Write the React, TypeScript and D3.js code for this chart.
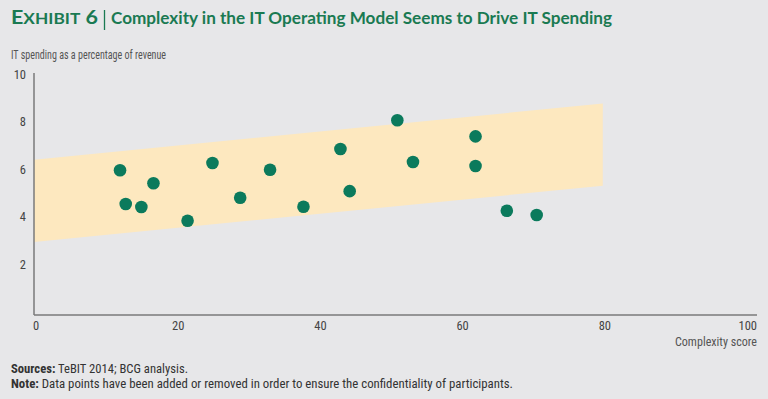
import React from "react";
import * as d3 from "d3";

const complexity = [12.1, 12.9, 15.1, 16.8, 21.6, 25.1, 29.0, 33.2, 37.9, 43.1, 44.4, 51.1, 53.3, 62.1, 62.1, 66.5, 70.7];
const itSpending = [5.98, 4.56, 4.43, 5.43, 3.85, 6.29, 4.82, 6.0, 4.44, 6.88, 5.1, 8.09, 6.33, 7.41, 6.16, 4.27, 4.09];
const bandX = [0, 80];
const bandTop = [6.42, 8.8];
const bandBottom = [2.95, 5.33];
const xTicks = [0, 20, 40, 60, 80, 100];
const yTicks = [2, 4, 6, 8, 10];

const W = 768;
const H = 399;
const FONT = "'Liberation Sans Narrow', 'Roboto Condensed', 'Open Sans', Roboto, sans-serif";
const TITLE_FONT = "Lato, 'Open Sans', Roboto, sans-serif";

export default function App() {
  const x = d3.scaleLinear().domain([0, 100]).range([34, 745]);
  const y = d3.scaleLinear().domain([0, 10]).range([312, 75]);
  const bandData = bandX.map((v, i) => ({ x: v, t: bandTop[i], b: bandBottom[i] }));
  const area = d3
    .area<{ x: number; t: number; b: number }>()
    .x((d) => x(d.x))
    .y0((d) => y(d.b))
    .y1((d) => y(d.t));
  const green = "#0b7a5c";
  const titleGreen = "#1a7a52";
  return (
    <svg width={W} height={H} style={{ position: "absolute", left: 0, top: 0, display: "block" }}>
      <rect width={W} height={H} fill="#e7e7e9" />
      <text x={11} y={24} fill={titleGreen} fontFamily={TITLE_FONT} fontWeight="bold" textLength={87} lengthAdjust="spacingAndGlyphs">
        <tspan fontSize={18}>E</tspan>
        <tspan fontSize={14.5}>XHIBIT</tspan>
        <tspan fontSize={18}> 6</tspan>
      </text>
      <line x1={104.5} x2={104.5} y1={10} y2={30} stroke={titleGreen} strokeWidth={1.3} />
      <text x={111} y={24} fill={titleGreen} fontFamily={TITLE_FONT} fontWeight="bold" fontSize={17.5} textLength={501} lengthAdjust="spacingAndGlyphs">
        Complexity in the IT Operating Model Seems to Drive IT Spending
      </text>
      <text x={11} y={59} fill="#555" fontFamily={FONT} fontSize={12} textLength={155} lengthAdjust="spacingAndGlyphs">
        IT spending as a percentage of revenue
      </text>
      <path d={area(bandData) || ""} fill="#fde8bf" />
      <line x1={34} x2={34} y1={73} y2={315} stroke="#7a7a7a" strokeWidth={1.5} />
      <line x1={34} x2={757} y1={315} y2={315} stroke="#7a7a7a" strokeWidth={1.5} />
      {yTicks.map((t) => (
        <text key={t} x={26} y={y(t) + 4} textAnchor="end" fill="#444" fontFamily={FONT} fontSize={12.5}>
          {t}
        </text>
      ))}
      {xTicks.map((t) => (
        <text key={t} x={t === 100 ? 757 : x(t) + 2} y={330} textAnchor={t === 100 ? "end" : "middle"} fill="#444" fontFamily={FONT} fontSize={12.5}>
          {t}
        </text>
      ))}
      <text x={757} y={346} textAnchor="end" fill="#555" fontFamily={FONT} fontSize={12} textLength={82} lengthAdjust="spacingAndGlyphs">
        Complexity score
      </text>
      {complexity.map((c, i) => (
        <circle key={i} cx={x(c)} cy={y(itSpending[i])} r={6.3} fill={green} />
      ))}
      <text x={11} y={373} fill="#333" fontFamily={FONT} fontSize={12} textLength={177} lengthAdjust="spacingAndGlyphs">
        <tspan fontWeight="bold">Sources:</tspan> TeBIT 2014; BCG analysis.
      </text>
      <text x={11} y={388} fill="#333" fontFamily={FONT} fontSize={12} textLength={502} lengthAdjust="spacingAndGlyphs">
        <tspan fontWeight="bold">Note:</tspan> Data points have been added or removed in order to ensure the confidentiality of participants.
      </text>
    </svg>
  );
}
